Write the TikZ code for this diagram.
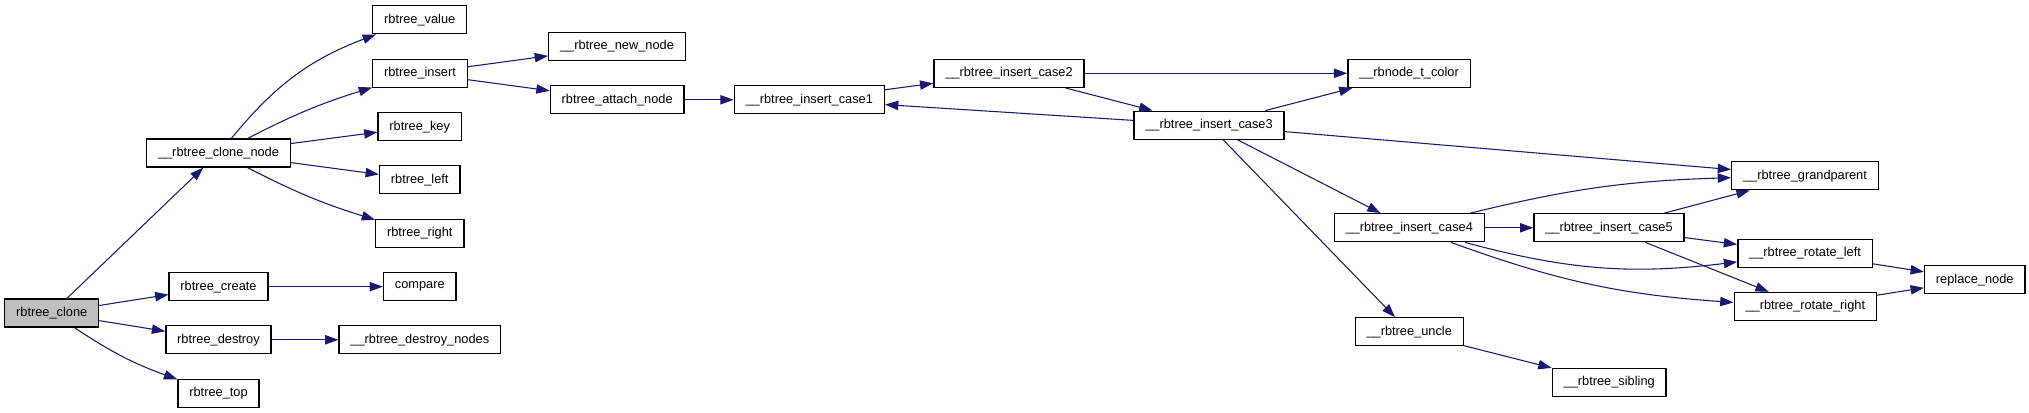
\documentclass[tikz,border=0pt]{standalone}
\usepackage{fontspec}
\setmainfont{Liberation Sans}
\usepackage{xcolor}
\usepackage{tikz}
\usetikzlibrary{arrows.meta}
\definecolor{EMidnight}{HTML}{191970}
\definecolor{EGray}{HTML}{BFBFBF}

\begin{document}
\begin{tikzpicture}[
  x=0.75pt,y=0.75pt,
  fn/.style={draw=black,line width=1pt,fill=white,inner xsep=8.5pt,
    minimum height=21pt,font=\fontsize{9.6pt}{11pt}\selectfont},
  cur/.style={fn,fill=EGray},
  a/.style={-{Triangle[length=10pt,width=7pt]},line width=0.8pt,color=EMidnight}
]
  \useasboundingbox (0,0) rectangle (2029,413);
  % first ranks
  \node[cur] (clone) at (51.7,100) {rbtree\_clone};
  \node[fn] (clonenode) at (218.5,260) {\_\_rbtree\_clone\_node};
  \node[fn] (rcreate) at (218.5,126.3) {rbtree\_create};
  \node[fn] (rdestroy) at (218.5,73.2) {rbtree\_destroy};
  \node[fn] (rtop) at (218.5,19.8) {rbtree\_top};
  \node[fn] (rvalue) at (419.7,393.2) {rbtree\_value};
  \node[fn] (rinsert) at (420,339.7) {rbtree\_insert};
  \node[fn] (rkey) at (419.7,286.3) {rbtree\_key};
  \node[fn] (rleft) at (419.7,233.2) {rbtree\_left};
  \node[fn] (rright) at (419.8,179.8) {rbtree\_right};
  \node[fn] (compare) at (419.8,126.3) {compare};
  \node[fn] (dnodes) at (419.8,73.2) {\_\_rbtree\_destroy\_nodes};
  \node[fn] (newnode) at (617,366.5) {\_\_rbtree\_new\_node};
  \node[fn] (attach) at (617.2,313.2) {rbtree\_attach\_node};
  % insert cases
  \node[fn] (case1) at (809.3,313.2) {\_\_rbtree\_insert\_case1};
  \node[fn] (case2) at (1009,339.7) {\_\_rbtree\_insert\_case2};
  \node[fn] (case3) at (1209,287.8) {\_\_rbtree\_insert\_case3};
  \node[fn] (color) at (1409,339.7) {\_\_rbnode\_t\_color};
  \node[fn] (case4) at (1409.2,185.2) {\_\_rbtree\_insert\_case4};
  \node[fn] (uncle) at (1409.2,81.2) {\_\_rbtree\_uncle};
  \node[fn] (case5) at (1609,185.2) {\_\_rbtree\_insert\_case5};
  \node[fn] (sibling) at (1609.2,30.5) {\_\_rbtree\_sibling};
  \node[fn] (grandp) at (1805,237.2) {\_\_rbtree\_grandparent};
  \node[fn] (rotl) at (1805,159.8) {\_\_rbtree\_rotate\_left};
  \node[fn] (rotr) at (1805.3,106.5) {\_\_rbtree\_rotate\_right};
  \node[fn] (replace) at (1974.7,133.2) {replace\_node};
  \foreach \x/\y in {clone/clonenode,clone/rcreate,clone/rdestroy,
      clonenode/rkey,clonenode/rleft,rcreate/compare,rdestroy/dnodes,
      rinsert/newnode,rinsert/attach,attach/case1,case1/case2,case2/color,
      case2/case3,case3/case1,case3/color,case3/grandp,case3/case4,
      case3/uncle,case4/case5,case5/grandp,case5/rotl,case5/rotr,
      rotl/replace,rotr/replace,uncle/sibling}
    {\draw[a] (\x) -- (\y);}
  \draw[a] (clone) to[bend right=7] (rtop);
  \draw[a] (clonenode) to[bend left=15] (rvalue);
  \draw[a] (clonenode) to[bend left=5] (rinsert);
  \draw[a] (clonenode) to[bend right=5] (rright);
  \draw[a] (case4) to[bend left=6] (grandp);
  \draw[a] (case4) to[bend right=11] (rotl);
  \draw[a] (case4) to[bend right=8] (rotr);
\end{tikzpicture}
\end{document}
